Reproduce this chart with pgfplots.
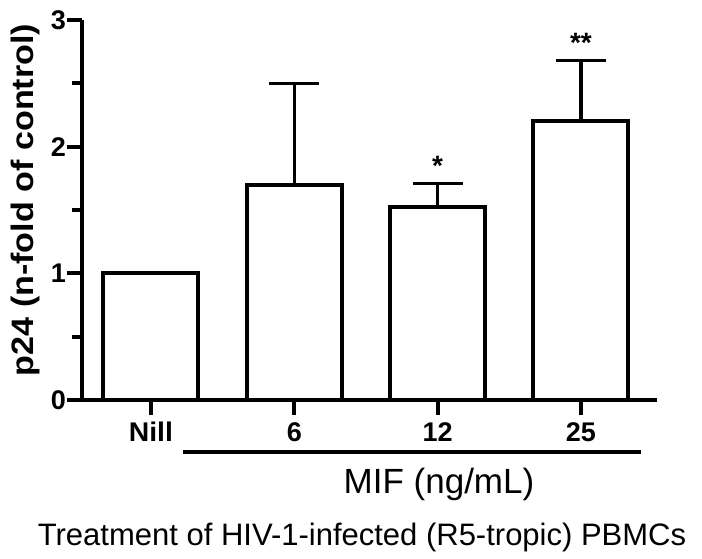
\documentclass[border=0pt]{standalone}
\usepackage{pgfplots}
\pgfplotsset{compat=1.18}
\usepackage{fontspec}
\setmainfont{Liberation Sans}

\begin{document}
\begin{tikzpicture}[x=1pt,y=1pt]
\path[use as bounding box] (0,0) rectangle (702,-559);
\begin{axis}[
  at={(82pt,-400pt)}, anchor=south west,
  scale only axis,
  width=575pt, height=380pt,
  xmin=-0.481, xmax=3.531,
  ymin=0, ymax=3,
  axis x line=bottom, axis y line=left,
  axis line style={-, line width=4.5pt},
  ytick={0,1,2,3},
  minor ytick={0.5,1.5,2.5},
  xtick={0,1,2,3},
  xticklabels={},
  yticklabels={\fontsize{27}{27}\selectfont\bfseries 0,
               \fontsize{27}{27}\selectfont\bfseries 1,
               \fontsize{27}{27}\selectfont\bfseries 2,
               \fontsize{27}{27}\selectfont\bfseries 3},
  tick align=outside,
  major tick length=15pt,
  minor tick length=10pt,
  every tick/.style={line width=4pt, black},
  yticklabel style={inner xsep=1pt},
  clip=false,
]
\addplot[ybar, bar width=95pt, fill=white, draw=black, line width=4pt,
  error bars/.cd, y dir=plus, y explicit,
  error mark=|, error mark options={line width=3.5pt, mark size=25pt, black},
  error bar style={line width=3.5pt, black}]
  coordinates {
    (0,1.00) +- (0,0)
    (1,1.70) +- (0,0.80)
    (2,1.52) +- (0,0.19)
    (3,2.20) +- (0,0.48)
  };
\node[font=\fontsize{27}{27}\selectfont\bfseries, anchor=base, xscale=1.05] at ([yshift=-41pt]axis cs:0,0) {Nill};
\node[font=\fontsize{27}{27}\selectfont\bfseries, anchor=base] at ([yshift=-41pt]axis cs:1,0) {6};
\node[font=\fontsize{27}{27}\selectfont\bfseries, anchor=base] at ([yshift=-41pt]axis cs:2,0) {12};
\node[font=\fontsize{27}{27}\selectfont\bfseries, anchor=base] at ([yshift=-41pt]axis cs:3,0) {25};
\node[font=\fontsize{28}{28}\selectfont\bfseries, anchor=center] at ([yshift=18pt]axis cs:2,1.71) {*};
\node[font=\fontsize{28}{28}\selectfont\bfseries, anchor=center] at ([yshift=18pt]axis cs:3,2.68) {**};
\end{axis}
\node[rotate=90, font=\fontsize{31}{31}\selectfont\bfseries, xscale=1.1] at (25,-200) {p24 (n-fold of control)};
\draw[line width=4.5pt] (183,-452) -- (641,-452);
\node[font=\fontsize{35}{35}\selectfont, anchor=base] at (439,-493) {MIF (ng/mL)};
\node[font=\fontsize{31}{31}\selectfont, anchor=base] at (362,-545) {Treatment of HIV-1-infected (R5-tropic) PBMCs};
\end{tikzpicture}
\end{document}
